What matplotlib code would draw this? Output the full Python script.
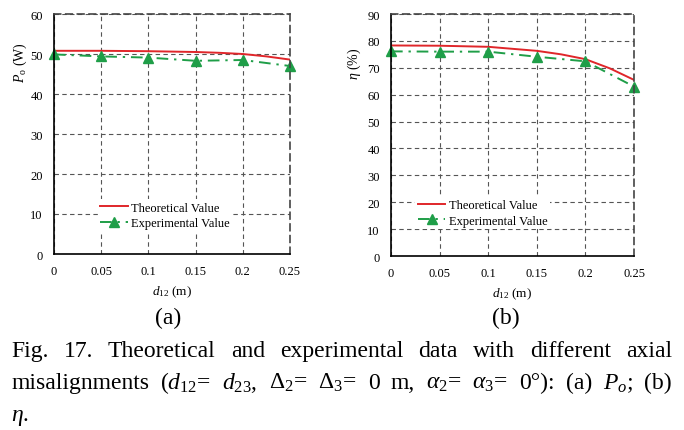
import numpy as np
import matplotlib.pyplot as plt

plt.rcParams['font.family'] = ['Liberation Serif', 'DejaVu Serif']
plt.rcParams['mathtext.fontset'] = 'custom'
plt.rcParams['mathtext.rm'] = 'Liberation Serif'
plt.rcParams['mathtext.it'] = 'Liberation Serif:italic'
plt.rcParams['mathtext.bf'] = 'Liberation Serif:bold'

# data
d_exp = [0, 0.05, 0.1, 0.15, 0.2, 0.25]
d_theo = [0, 0.05, 0.1, 0.15, 0.175, 0.2, 0.225, 0.25]

po_theo = [50.8, 50.8, 50.7, 50.5, 50.3, 50.0, 49.4, 48.6]
po_exp = [49.9, 49.4, 49.1, 48.3, 48.5, 47.0]

eta_theo = [78.3, 78.2, 77.8, 76.3, 75.0, 73.2, 69.8, 65.5]
eta_exp = [76.1, 76.0, 76.0, 74.1, 72.4, 63.0]

xticks = [0, 0.05, 0.1, 0.15, 0.2, 0.25]
xticklabels = ['0', '0.05', '0.1', '0.15', '0.2', '0.25']

W, H = 684, 431
fig = plt.figure(figsize=(W / 100, H / 100), dpi=100)

red = '#e0262a'
green = '#1f9e48'


def panel(rect, theo, exp, ymax, ylabel, ylab_x, legx, legy):
    ax = fig.add_axes(rect)
    ax.plot(d_theo, theo, color=red, lw=1.4, label='Theoretical Value')
    ax.plot(d_exp, exp, color=green, lw=1.4, ls=(0, (6, 3, 1.2, 3)),
            marker='^', ms=7, label='Experimental Value', clip_on=False)
    ax.set_xlim(0, 0.25)
    ax.set_ylim(0, ymax)
    ax.set_xticks(xticks)
    ax.set_xticklabels(xticklabels)
    ax.set_yticks(np.arange(0, ymax + 1, 10))
    ax.tick_params(length=0, labelsize=9, pad=8)
    ax.grid(True, color='#555555', ls=(0, (4, 3)), lw=0.8)
    for s in ['left', 'bottom']:
        ax.spines[s].set_color('black')
        ax.spines[s].set_linewidth(1.2)
    for s in ['top', 'right']:
        ax.spines[s].set_color('#444444')
        ax.spines[s].set_linewidth(1.2)
        ax.spines[s].set_linestyle((0, (4, 3)))
    ax.set_xlabel(r'$d_{12}$ (m)', fontsize=9.5, labelpad=5)
    ax.set_ylabel(ylabel, fontsize=10)
    ax.yaxis.set_label_coords(ylab_x, 0.8)
    leg = ax.legend(loc='center left', bbox_to_anchor=(legx, legy),
                    frameon=True, fancybox=False, fontsize=9,
                    handlelength=2.2, handletextpad=0.3,
                    labelspacing=0.3, borderpad=0.2, borderaxespad=0)
    leg.get_frame().set_facecolor('white')
    leg.get_frame().set_edgecolor('none')
    leg.get_frame().set_alpha(1)
    return ax


panel([54 / W, 1 - 255 / H, 236 / W, 240 / H], po_theo, po_exp, 60,
      r'$P_{\mathrm{o}}$ (W)', -0.108, 0.185, 0.16)
panel([391 / W, 1 - 257 / H, 243 / W, 242 / H], eta_theo, eta_exp, 90,
      r'$\eta$ (%)', -0.115, 0.10, 0.178)

fig.text(168 / W, 1 - 318 / H, '(a)', ha='center', va='center', fontsize=17)
fig.text(506 / W, 1 - 318 / H, '(b)', ha='center', va='center', fontsize=17)

# justified caption
lines = [
    ['Fig.', '17.', 'Theoretical', 'and', 'experimental', 'data', 'with',
     'different', 'axial'],
    ['misalignments', r'($d_{12}$=', r'$d_{23}$,', r'Δ$_2$=', r'Δ$_3$=', '0',
     'm,', r'$\alpha_2$=', r'$\alpha_3$=', '0°):', '(a)', r'$P_o$;', '(b)'],
]
x0, x1 = 11, 672
baselines = [357, 389]
fig.canvas.draw()
r = fig.canvas.get_renderer()
for words, yb in zip(lines, baselines):
    ts = [fig.text(0, 1 - yb / H, w, fontsize=17, va='baseline') for w in words]
    ws = [t.get_window_extent(r).width for t in ts]
    gap = (x1 - x0 - sum(ws)) / (len(ws) - 1)
    x = x0
    for t, w in zip(ts, ws):
        t.set_x(x / W)
        x += w + gap
fig.text(x0 / W, 1 - 421 / H, r'$\eta$.', fontsize=17, va='baseline')

fig.savefig('out.png', dpi=100)
